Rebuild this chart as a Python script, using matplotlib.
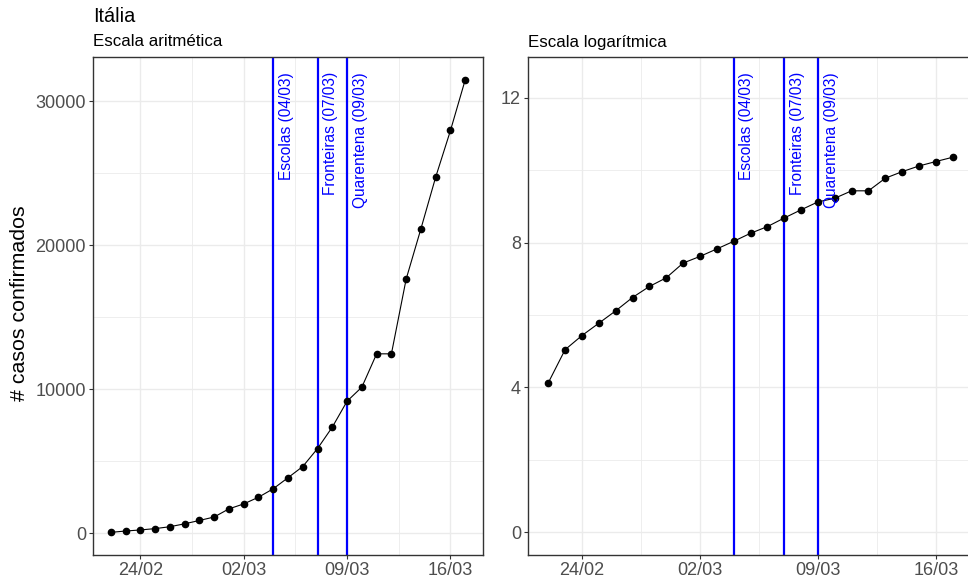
import numpy as np
import pandas as pd
import matplotlib
matplotlib.use("Agg")
import matplotlib.pyplot as plt
import matplotlib.dates as mdates
from matplotlib.ticker import FixedLocator

plt.rcParams['font.family'] = ['Liberation Sans', 'DejaVu Sans']

# casos confirmados acumulados - Itália
datas = pd.date_range('2020-02-22', '2020-03-17', freq='D')
casos = [62, 155, 229, 322, 453, 655, 888, 1128, 1694, 2036, 2502, 3089,
         3858, 4636, 5883, 7375, 9172, 10149, 12462, 12462, 17660, 21157,
         24747, 27980, 31506]

medidas = ['Escolas (04/03)', 'Fronteiras (07/03)', 'Quarentena (09/03)']
datas_medidas = pd.to_datetime(['2020-03-04', '2020-03-07', '2020-03-09'])

x_breaks = pd.to_datetime(['2020-02-24', '2020-03-02', '2020-03-09', '2020-03-16'])
x_minor = pd.to_datetime(['2020-02-20 12:00', '2020-02-27 12:00',
                          '2020-03-05 12:00', '2020-03-12 12:00'])
y_breaks_arit = [0, 10000, 20000, 30000]
y_minor_arit = [5000, 15000, 25000]
y_breaks_log = [0, 4, 8, 12]
y_minor_log = [2, 6, 10]
y_lim_log = (0, 12.5)

GRID = '#EBEBEB'
SPINE = '#333333'
TICKTXT = '#4D4D4D'


def estilo(ax, yb, ym):
    ax.set_axisbelow(True)
    ax.xaxis.set_major_locator(FixedLocator(mdates.date2num(x_breaks)))
    ax.xaxis.set_minor_locator(FixedLocator(mdates.date2num(x_minor)))
    ax.xaxis.set_major_formatter(mdates.DateFormatter('%d/%m'))
    ax.yaxis.set_major_locator(FixedLocator(yb))
    ax.yaxis.set_minor_locator(FixedLocator(ym))
    ax.grid(True, which='major', color=GRID, linewidth=1.0)
    ax.grid(True, which='minor', color=GRID, linewidth=0.6)
    for s in ax.spines.values():
        s.set_color(SPINE)
        s.set_linewidth(1.0)
    ax.tick_params(which='major', length=3, width=0.8, color=SPINE,
                   labelsize=13, labelcolor=TICKTXT, pad=2)
    ax.tick_params(which='minor', length=0)


def painel(ax, valores):
    for d in datas_medidas:
        ax.axvline(d, color='#0000FF', linewidth=1.6, zorder=2)
    ax.plot(datas, valores, color='black', linewidth=0.8, zorder=3)
    ax.plot(datas, valores, 'o', color='black', markersize=4.5, zorder=4)
    for nome, d in zip(medidas, datas_medidas):
        ax.annotate(nome, xy=(mdates.date2num(d), 0.97),
                    xycoords=('data', 'axes fraction'),
                    xytext=(9.5, 0), textcoords='offset points',
                    rotation=90, ha='center', va='top',
                    color='#0000FF', fontsize=11.2, zorder=5)


fig = plt.figure(figsize=(9.68, 5.83), dpi=100)
W, H = 968, 583
ax1 = fig.add_axes([93 / W, 28 / H, 390 / W, 498 / H])
ax2 = fig.add_axes([528 / W, 28 / H, 445 / W, 498 / H])

# escala aritmética
painel(ax1, casos)
ax1.margins(x=0.05, y=0.05)
estilo(ax1, y_breaks_arit, y_minor_arit)

# escala logarítmica (log natural)
log_casos = np.log(casos)
painel(ax2, log_casos)
ax2.margins(x=0.05)
pad = 0.05 * (y_lim_log[1] - y_lim_log[0])
ax2.set_ylim(y_lim_log[0] - pad, y_lim_log[1] + pad)
estilo(ax2, y_breaks_log, y_minor_log)

fig.text(93 / W, 1 - 16 / H, 'Itália', fontsize=14.3, va='center', ha='left')
fig.text(93 / W, 1 - 42 / H, 'Escala aritmética', fontsize=12.2,
         va='center', ha='left')
fig.text(528 / W, 1 - 42 / H, 'Escala logarítmica', fontsize=12.2,
         va='center', ha='left')
fig.text(20 / W, 1 - 303 / H, '# casos confirmados', fontsize=15.4,
         rotation=90, va='center', ha='center')

fig.savefig('out.png', dpi=100)
